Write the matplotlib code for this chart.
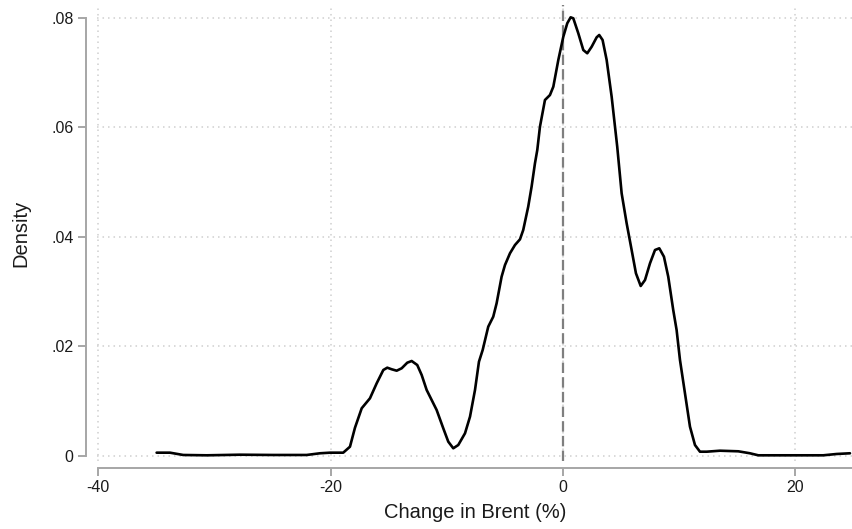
import matplotlib
matplotlib.use("Agg")
import matplotlib.pyplot as plt

plt.rcParams['font.family'] = ['Liberation Sans', 'DejaVu Sans']

# Kernel density curve (x: % change, y: density)
x_vals = [-34.97, -33.82, -32.68, -30.66, -27.80, -24.93, -22.06, -20.91, -20.05,
          -18.91, -18.33, -17.90, -17.32, -16.61, -16.03, -15.46, -15.12, -14.74,
          -14.31, -13.88, -13.40, -13.02, -12.54, -12.16, -11.73, -11.30, -10.87,
          -10.30, -9.87, -9.44, -9.01, -8.43, -8.00, -7.57, -7.23, -6.91, -6.43,
          -6.00, -5.71, -5.28, -4.99, -4.56, -4.13, -3.70, -3.42, -2.99, -2.70,
          -2.41, -2.21, -1.98, -1.55, -1.12, -0.83, -0.40, 0.03, 0.37, 0.66, 0.89,
          1.32, 1.75, 2.09, 2.47, 2.90, 3.12, 3.41, 3.76, 4.19, 4.67, 5.05, 5.48,
          5.91, 6.28, 6.69, 7.06, 7.49, 7.92, 8.29, 8.69, 9.06, 9.49, 9.78, 10.07,
          10.50, 10.93, 11.36, 11.79, 12.37, 13.51, 15.09, 16.09, 16.81, 18.67,
          22.40, 23.55, 24.70]
density = [0.00055, 0.00055, 0.00013, 0.00007, 0.00018, 0.00013, 0.00013, 0.00044,
           0.00055, 0.00055, 0.00164, 0.0051, 0.00866, 0.01048, 0.01322, 0.01565,
           0.01607, 0.01578, 0.01552, 0.01596, 0.01698, 0.01729, 0.01656, 0.01474,
           0.0120, 0.01017, 0.00834, 0.0050, 0.00256, 0.00135, 0.00195, 0.00409,
           0.00712, 0.0120, 0.01716, 0.0193, 0.02356, 0.02538, 0.02783, 0.03269,
           0.03482, 0.03696, 0.03847, 0.03951, 0.04121, 0.04547, 0.04912, 0.05339,
           0.05582, 0.06008, 0.06495, 0.06586, 0.06738, 0.07226, 0.07651, 0.07896,
           0.08005, 0.07987, 0.07713, 0.07408, 0.07348, 0.07468, 0.0764, 0.07682,
           0.07591, 0.07226, 0.06555, 0.05642, 0.04791, 0.04244, 0.03756, 0.03331,
           0.03099, 0.03208, 0.03513, 0.03756, 0.03787, 0.03634, 0.03269, 0.0266,
           0.02295, 0.01748, 0.01139, 0.0053, 0.00195, 0.00073, 0.00073, 0.00091,
           0.0008, 0.00044, 0.00007, 0.00007, 0.00007, 0.00031, 0.00044]

x_ticks = [-40, -20, 0, 20]
x_tick_labels = ['-40', '-20', '0', '20']
y_ticks = [0, 0.02, 0.04, 0.06, 0.08]
y_tick_labels = ['0', '.02', '.04', '.06', '.08']
ref_line = 0

W, H = 853, 529
fig = plt.figure(figsize=(W / 100, H / 100), dpi=100)
ax = fig.add_axes([97 / W, (H - 461) / H, (853 - 97) / W, (461 - 5) / H])

ax.set_xlim(-40.1, 24.96)
ax.set_ylim(-0.00097, 0.0823)

grid_kw = dict(color='#cfcfcf', lw=1.1, ls=(0, (1, 2.6)), zorder=0)
for t in x_ticks:
    ax.axvline(t, **grid_kw)
for t in y_ticks:
    ax.axhline(t, **grid_kw)

ax.axvline(ref_line, color='#7f7f7f', lw=1.6, ls=(0, (4.7, 1.9)), zorder=1)
ax.plot(x_vals, density, color='black', lw=1.9, solid_joinstyle='round',
        solid_capstyle='round', zorder=2)

for s in ['top', 'right']:
    ax.spines[s].set_visible(False)
axis_col = '#a6a6a6'
ax.spines['left'].set_position(('outward', 7.9))
ax.spines['bottom'].set_position(('outward', 4.8))
ax.spines['left'].set_bounds(0, 0.08)
ax.spines['bottom'].set_bounds(-40, 24.96)
for s in ['left', 'bottom']:
    ax.spines[s].set_color(axis_col)
    ax.spines[s].set_linewidth(1.4)

ax.set_xticks(x_ticks)
ax.set_xticklabels(x_tick_labels)
ax.set_yticks(y_ticks)
ax.set_yticklabels(y_tick_labels)
ax.tick_params(axis='both', direction='out', length=6, width=1.4, color=axis_col,
               labelsize=11.5, labelcolor='#1a1a1a', pad=3)

ax.set_xlabel('Change in Brent (%)', fontsize=14.5, color='#1a1a1a', labelpad=6)
ax.set_ylabel('Density', fontsize=14.5, color='#1a1a1a', labelpad=15)

fig.savefig('out.png', dpi=100)
